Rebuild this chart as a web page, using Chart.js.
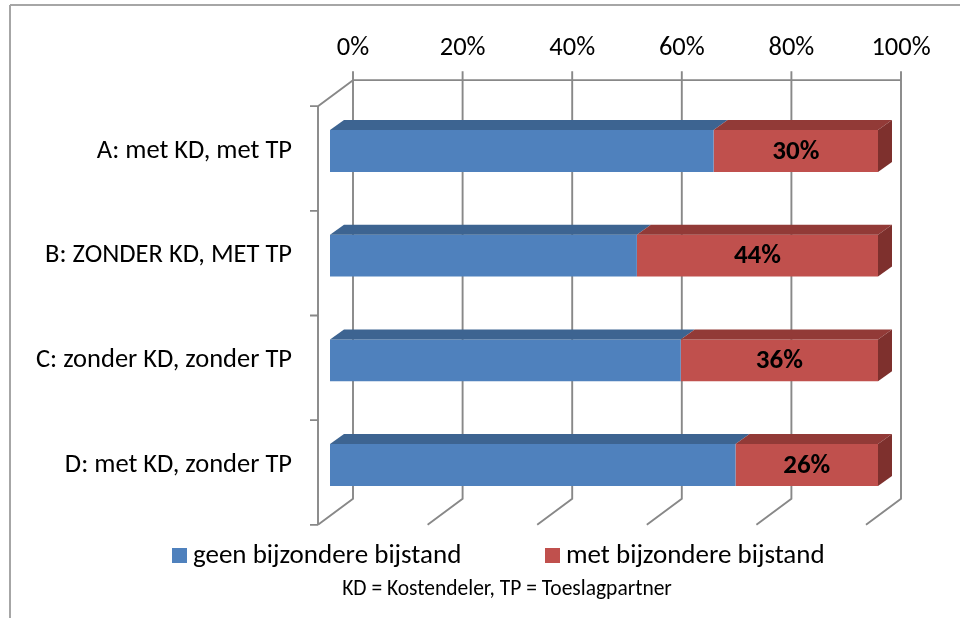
<!DOCTYPE html>
<html><head><meta charset="utf-8">
<script src="https://cdn.jsdelivr.net/npm/chart.js@4.4.1/dist/chart.umd.min.js"></script>
<style>html,body{margin:0;padding:0;background:#fff;overflow:hidden}#wrap{position:relative;width:960px;height:618px}</style>
</head><body><div id="wrap"><canvas id="c" width="960" height="618"></canvas></div>
<script>
const categories = ['A: met KD, met TP', 'B: ZONDER KD, MET TP', 'C: zonder KD, zonder TP', 'D: met KD, zonder TP'];
const geenBijstand = [70, 56, 64, 74];
const metBijstand = [30, 44, 36, 26];
const seriesNames = ['geen bijzondere bijstand', 'met bijzondere bijstand'];
const xTickLabels = ['0%', '20%', '40%', '60%', '80%', '100%'];
const footnote = 'KD = Kostendeler, TP = Toeslagpartner';

const FONT = "Carlito, Calibri, Lato, sans-serif";
const frontColors = ['#4F81BD', '#C0504D'];
const topColors = ['#3D6491', '#923A37'];
const sideColors = ['#335478', '#7E302D'];

const walls = {
  id: 'walls',
  beforeDraw(chart) {
    const ctx = chart.ctx;
    ctx.save();
    ctx.strokeStyle = '#a6a6a6'; ctx.lineWidth = 2;
    ctx.beginPath(); ctx.moveTo(10, 5); ctx.lineTo(960, 5); ctx.moveTo(10, 5); ctx.lineTo(10, 618); ctx.stroke();
    ctx.restore();
  },
  beforeDatasetsDraw(chart) {
    const ctx = chart.ctx, xs = chart.scales.x, ca = chart.chartArea;
    const BX = 23, BY = -18.5, FX = -12, FY = 7.5;
    ctx.save();
    ctx.strokeStyle = '#888888'; ctx.lineWidth = 1.9; ctx.lineCap = 'butt';
    ctx.beginPath();
    xs.ticks.forEach(t => {
      const px = xs.getPixelForValue(t.value);
      ctx.moveTo(px + BX, ca.top + BY - 9); ctx.lineTo(px + BX, ca.bottom + BY);
      ctx.lineTo(px + FX, ca.bottom + FY);
    });
    const x0 = xs.getPixelForValue(0), x1 = xs.getPixelForValue(100);
    ctx.moveTo(x0 + BX, ca.top + BY); ctx.lineTo(x1 + BX, ca.top + BY);
    ctx.moveTo(x0 + BX, ca.top + BY); ctx.lineTo(x0 + FX, ca.top + FY);
    ctx.lineTo(x0 + FX, ca.bottom + FY);
    const n = categories.length;
    for (let i = 0; i <= n; i++) {
      const y = ca.top + i * (ca.height / n) + FY;
      ctx.moveTo(x0 + FX - 8, y); ctx.lineTo(x0 + FX, y);
    }
    ctx.stroke();
    ctx.restore();
  },
  afterDatasetsDraw(chart) {
    const ctx = chart.ctx;
    const DX = 14, DY = -10;
    const last = chart.data.datasets.length - 1;
    ctx.save();
    chart.data.datasets.forEach((ds, di) => {
      const meta = chart.getDatasetMeta(di);
      meta.data.forEach((bar, i) => {
        const p = bar.getProps(['x', 'y', 'base', 'height'], true);
        const l = Math.min(p.x, p.base), r = Math.max(p.x, p.base);
        const t = p.y - p.height / 2, b = p.y + p.height / 2;
        ctx.fillStyle = topColors[di];
        ctx.beginPath(); ctx.moveTo(l, t); ctx.lineTo(l + DX, t + DY); ctx.lineTo(r + DX, t + DY); ctx.lineTo(r, t); ctx.closePath(); ctx.fill();
        if (di === last) {
          ctx.fillStyle = sideColors[di];
          ctx.beginPath(); ctx.moveTo(r, t); ctx.lineTo(r + DX, t + DY); ctx.lineTo(r + DX, b + DY); ctx.lineTo(r, b); ctx.closePath(); ctx.fill();
          ctx.fillStyle = '#000';
          ctx.font = "bold 27px " + FONT;
          ctx.textAlign = 'center'; ctx.textBaseline = 'middle';
          ctx.fillText(Math.round(ds.data[i]) + '%', (l + r) / 2, p.y + 1);
        }
      });
    });
    ctx.restore();
  },
  afterDraw(chart) {
    const ctx = chart.ctx;
    ctx.save();
    const items = [{x: 172, text: seriesNames[0], color: frontColors[0]}, {x: 545, text: seriesNames[1], color: frontColors[1]}];
    ctx.font = "27px " + FONT; ctx.textBaseline = 'middle'; ctx.textAlign = 'left';
    items.forEach(it => {
      ctx.fillStyle = it.color; ctx.fillRect(it.x, 548, 15, 15);
      ctx.fillStyle = '#000'; ctx.fillText(it.text, it.x + 21, 556);
    });
    ctx.font = "21.5px " + FONT; ctx.textAlign = 'center';
    ctx.fillText(footnote, 507, 590);
    ctx.restore();
  }
};

new Chart(document.getElementById('c'), {
  type: 'bar',
  data: {
    labels: categories,
    datasets: [
      {label: seriesNames[0], data: geenBijstand, backgroundColor: frontColors[0], borderWidth: 0},
      {label: seriesNames[1], data: metBijstand, backgroundColor: frontColors[1], borderWidth: 0}
    ]
  },
  options: {
    indexAxis: 'y', responsive: false, animation: false,
    layout: {padding: {left: 0, right: 82, top: 0, bottom: 100.67}},
    datasets: {bar: {categoryPercentage: 1, barPercentage: 0.4}},
    plugins: {legend: {display: false}, tooltip: {enabled: false}},
    scales: {
      x: {
        position: 'top', stacked: true, min: 0, max: 100,
        ticks: {stepSize: 20, callback: (v, i) => xTickLabels[i], labelOffset: 23, padding: 34, color: '#000', font: {family: FONT, size: 26.5}},
        grid: {display: false, drawTicks: false}, border: {display: false},
        afterFit: s => { s.height = 98.67; }
      },
      y: {
        stacked: true,
        ticks: {padding: 38, color: '#000', font: {family: FONT, size: 26.5}},
        grid: {display: false, drawTicks: false}, border: {display: false},
        afterFit: s => { s.width = 330; }
      }
    }
  },
  plugins: [walls]
});
</script></body></html>
